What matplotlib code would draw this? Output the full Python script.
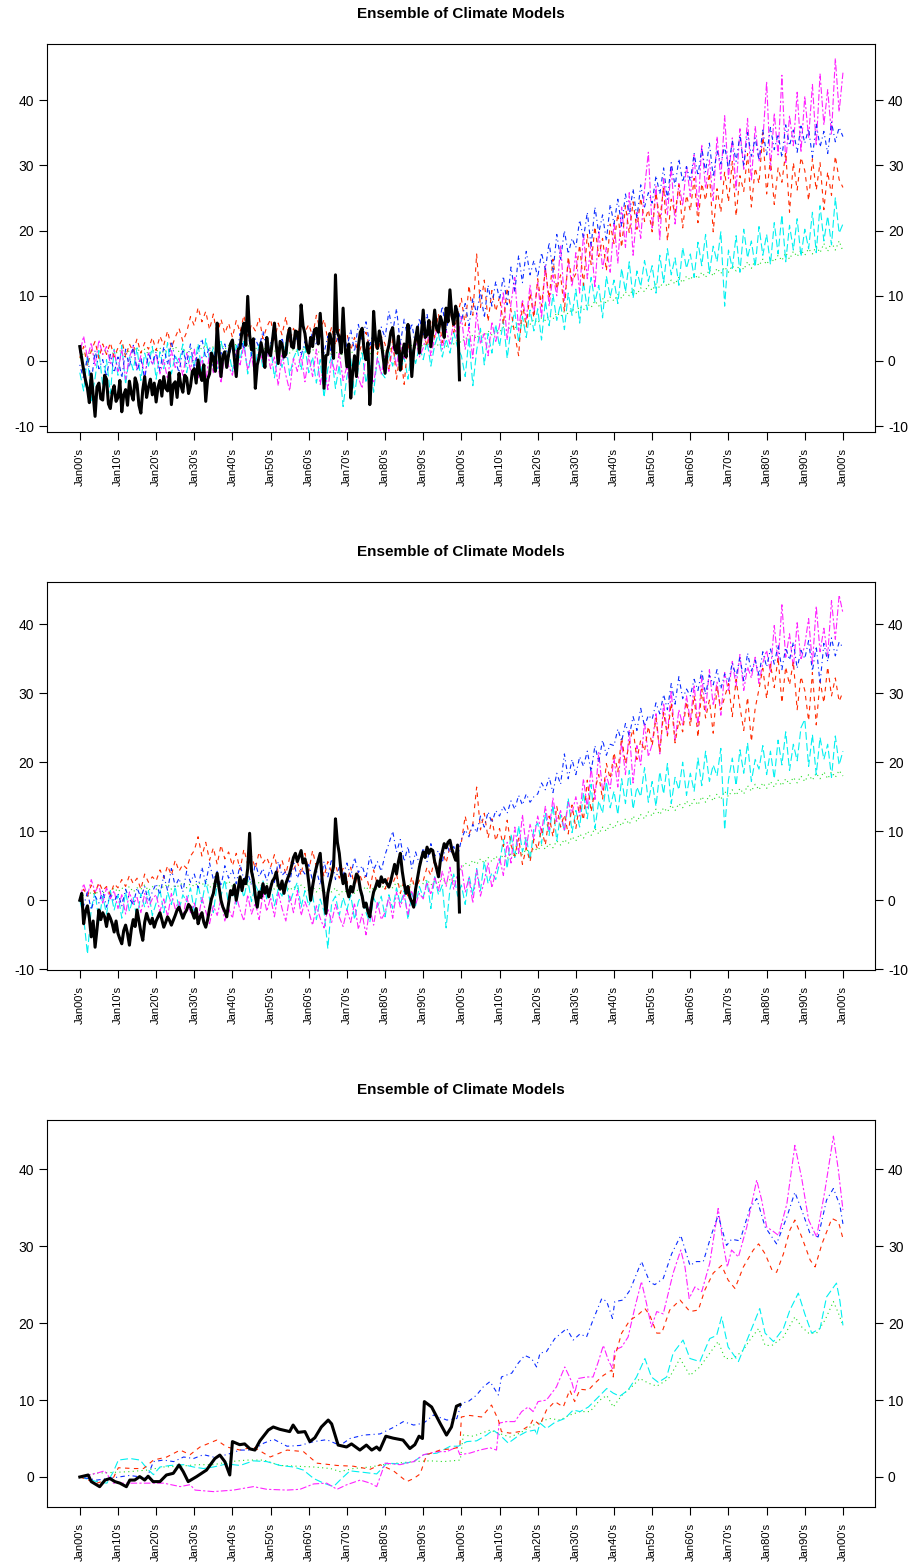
import numpy as np
import matplotlib
matplotlib.use("Agg")
import matplotlib.pyplot as plt

plt.rcParams['font.family'] = ['Liberation Sans', 'DejaVu Sans']

TITLE = "Ensemble of Climate Models"
XTICK_YEARS = list(range(1900, 2101, 10))
XTICK_LABELS = ["Jan00's", "Jan10's", "Jan20's", "Jan30's", "Jan40's", "Jan50's",
                "Jan60's", "Jan70's", "Jan80's", "Jan90's", "Jan00's", "Jan10's",
                "Jan20's", "Jan30's", "Jan40's", "Jan50's", "Jan60's", "Jan70's",
                "Jan80's", "Jan90's", "Jan00's"]
YTICKS_12 = [-10, 0, 10, 20, 30, 40]
YTICKS_3 = [0, 10, 20, 30, 40]

# ---------------- Panel 1 (yearly values 1900-2100, one row per decade) ----------------
P1_RED = [0.5, 2.2, -0.8, 1.6, 3.0, 0.4, 2.6, 1.0, 2.8, 0.6,
          2.0, 3.2, 0.6, 2.6, 1.4, 3.4, 1.2, 2.8, 1.8, 3.6,
          1.6, 3.8, 2.4, 4.6, 2.0, 3.6, 5.0, 3.0, 4.4, 6.8,
          5.4, 8.2, 6.0, 7.6, 4.8, 7.2, 3.8, 6.4, 4.2, 5.8,
          3.6, 6.2, 4.4, 7.0, 3.8, 5.6, 4.6, 6.6, 3.4, 5.2,
          6.4, 3.2, 5.8, 4.0, 6.8, 2.8, 5.0, 3.6, 6.2, 4.4,
          5.6, 3.8, 7.0, 4.6, 6.4, 3.2, 5.2, 2.4, 4.8, 3.0,
          4.2, 1.6, 3.6, 0.8, 2.8, 4.4, 1.8, 3.4, 1.0, 3.8,
          2.6, -1.2, 3.4, -2.8, 1.6, -3.6, 2.8, -0.6, 3.8, 1.4,
          4.6, 2.2, 6.0, 3.6, 7.2, 2.8, 5.8, 8.2, 4.4, 7.0,
          9.6, 5.4, 11.6, 7.0, 16.4, 8.2, 12.4, 6.0, 10.8, 7.6,
          9.8, 5.6, 11.2, 7.8, 4.0, 0.8, 8.8, 5.2, 10.4, 6.6,
          12.6, 8.4, 14.2, 9.6, 15.6, 11.0, 13.2, 7.6, 16.0, 12.2,
          13.4, 17.8, 11.6, 19.4, 14.8, 20.6, 16.0, 18.8, 13.8, 21.0,
          18.0, 22.6, 17.4, 23.8, 19.6, 24.4, 20.2, 25.0, 21.4, 23.2,
          19.8, 25.8, 21.6, 26.6, 18.4, 24.8, 22.6, 27.0, 20.4, 25.4,
          23.0, 28.0, 21.2, 27.2, 24.6, 28.8, 19.8, 26.4, 22.8, 29.0,
          24.4, 30.6, 22.2, 28.4, 26.0, 31.8, 23.6, 29.6, 27.2, 35.0,
          25.6, 31.0, 24.0, 29.6, 27.4, 32.0, 22.8, 30.4, 26.2, 31.2,
          29.2, 24.6, 31.0, 26.2, 30.4, 23.2, 29.0, 25.4, 31.4, 27.8,
          26.6]
P1_BLUE = [-0.6, -2.8, 0.8, -3.4, 1.6, -1.2, 0.2, -2.4, 1.0, -1.8,
           0.6, -2.6, 1.8, -1.0, 2.4, -1.6, 0.4, -2.8, 1.2, -0.4,
           1.4, -1.6, 2.2, -0.6, 3.0, 0.2, -1.8, 1.8, -0.4, 2.6,
           -1.2, 1.6, 3.4, 0.4, 2.2, -0.8, 3.8, 1.0, 2.6, 0.2,
           3.0, 0.6, 4.2, 1.8, 4.8, 0.8, 3.4, 2.0, 4.6, 1.2,
           2.8, 4.4, 1.0, 3.6, 0.4, 4.8, 2.2, 3.8, 0.8, 3.0,
           1.6, 4.6, 2.4, 5.4, 1.2, 3.8, 0.8, 4.2, 2.6, 5.0,
           2.0, 4.8, 1.4, 5.6, 3.0, 6.0, 2.4, 4.6, 1.8, 5.2,
           3.6, 7.6, 4.4, 8.0, 2.6, 6.4, 3.2, 5.8, 2.2, 6.6,
           4.0, 7.2, 3.4, 6.8, 5.2, 8.4, 4.6, 7.6, 5.6, 8.0,
           6.0, 8.8, 5.4, 9.6, 7.2, 10.8, 6.6, 11.6, 8.4, 12.2,
           9.4, 13.0, 8.6, 14.4, 10.6, 16.2, 12.0, 16.8, 13.2, 15.4,
           12.8, 16.6, 14.0, 18.2, 13.6, 19.4, 15.6, 20.0, 16.4, 18.8,
           17.4, 21.6, 18.8, 22.8, 17.6, 23.6, 19.6, 22.4, 18.4, 24.0,
           21.0, 24.8, 20.6, 25.6, 22.4, 26.4, 21.8, 27.0, 23.6, 25.8,
           24.2, 28.4, 25.6, 29.6, 24.8, 30.4, 26.8, 31.0, 27.4, 29.8,
           27.6, 31.8, 28.4, 32.6, 29.0, 33.4, 28.2, 32.2, 30.2, 33.0,
           29.4, 33.8, 30.6, 34.6, 29.8, 35.0, 31.4, 34.2, 30.8, 35.4,
           31.6, 35.8, 32.4, 34.8, 31.2, 36.2, 33.0, 35.4, 32.0, 36.0,
           33.4, 35.6, 31.2, 36.4, 32.8, 35.2, 31.8, 36.6, 33.6, 35.8,
           34.4]
P1_MAGENTA = [1.2, 3.8, 0.4, 2.8, -0.8, 3.2, 1.0, 2.2, -0.4, 1.6,
              -1.6, 1.8, -2.8, 0.6, 2.2, -1.2, 0.8, -2.4, 1.4, -0.6,
              1.0, -2.0, 0.2, -2.8, 1.6, -1.0, 0.4, -2.2, 1.2, -1.4,
              1.8, -2.6, 0.6, -3.2, 1.2, -1.8, 0.0, -3.4, 1.4, -0.8,
              -2.2, 1.6, -0.6, 2.4, -1.4, 0.8, -2.8, 1.8, -0.2, 2.0,
              -1.2, 0.6, -3.8, 1.2, -2.2, -4.6, 0.4, -1.6, 1.0, -3.2,
              0.8, -2.4, 1.8, -3.6, -0.6, -4.4, 0.2, -2.0, 1.2, -3.0,
              -0.8, -4.8, 0.6, -2.6, -4.2, 1.2, -1.6, -3.4, 0.4, -2.0,
              0.8, -1.6, 2.2, -0.8, 3.0, 0.2, 2.6, -1.2, 3.4, 0.6,
              2.0, 4.4, 0.8, 3.6, 5.6, 1.8, 4.8, 2.6, 6.0, 3.2,
              6.8, 1.8, 5.2, 0.4, 7.4, 2.6, 4.2, 0.8, 6.0, 3.0,
              5.4, 10.6, 3.2, 8.8, 12.8, 4.6, 9.4, 6.4, 11.6, 7.2,
              12.0, 6.6, 14.6, 8.4, 13.2, 10.0, 17.8, 9.2, 15.4, 11.4,
              16.6, 10.4, 19.6, 12.6, 18.2, 11.2, 20.0, 14.2, 17.4, 13.6,
              21.2, 15.0, 23.6, 17.4, 25.8, 16.2, 22.8, 18.8, 26.4, 32.0,
              20.2, 26.8, 18.6, 28.0, 22.4, 29.8, 21.0, 27.2, 23.8, 30.0,
              25.2, 31.6, 23.0, 33.2, 26.4, 30.8, 24.6, 34.4, 27.8, 37.6,
              28.0, 34.2, 26.2, 35.6, 29.4, 37.2, 27.6, 36.0, 30.6, 33.8,
              42.8, 29.2, 38.0, 31.6, 43.8, 30.4, 37.6, 33.0, 41.2, 32.0,
              40.6, 34.2, 42.4, 33.0, 44.0, 36.2, 41.6, 34.8, 46.4, 38.2,
              44.2]
P1_CYAN = [-1.8, -4.6, 0.8, -6.2, -2.6, 1.6, -3.8, 0.2, -5.0, 1.8,
           -2.2, 2.4, -3.6, 0.6, -1.4, 2.0, -3.0, 1.2, -0.8, 2.2,
           -2.8, 1.4, -1.2, 2.8, -2.0, 0.8, -0.4, 2.6, -1.8, 1.0,
           -0.8, 2.6, -1.8, 3.4, 0.2, 2.0, -1.2, 3.0, 0.6, 1.6,
           -1.6, 2.4, 0.2, 3.0, -2.0, 1.4, -0.6, 2.6, -1.2, 0.8,
           2.4, -2.6, 1.0, -1.0, 2.8, -2.2, 0.4, 1.8, -1.4, 2.2,
           -1.8, 0.6, -3.4, 0.2, -5.6, -1.2, 0.8, -4.2, -0.6, -7.0,
           -2.4, 0.4, -5.2, -1.0, 1.2, -3.4, -0.2, -4.8, 0.6, -1.8,
           -2.6, 1.4, -0.8, 2.4, -1.8, 0.6, -2.8, 1.8, -0.4, 2.2,
           0.2, 3.0, -0.8, 2.4, 4.2, 0.6, 3.4, 1.2, 4.4, 2.0,
           0.8, -2.4, 3.6, -3.8, 1.6, 5.0, -0.6, 4.2, 1.2, 5.6,
           2.2, 6.2, 0.4, 5.0, 7.6, 2.8, 6.8, 3.6, 7.8, 4.6,
           8.0, 3.2, 9.2, 5.4, 10.2, 6.2, 8.8, 4.8, 10.4, 7.0,
           11.0, 5.8, 12.2, 7.8, 12.8, 9.0, 11.6, 6.6, 13.0, 9.8,
           12.4, 8.8, 14.2, 10.6, 15.2, 9.6, 13.8, 11.4, 15.4, 12.2,
           14.6, 10.4, 16.2, 12.0, 17.2, 13.2, 15.8, 11.6, 17.4, 14.2,
           16.4, 12.8, 18.2, 14.6, 19.4, 13.4, 17.6, 15.2, 19.8, 8.4,
           17.0, 14.2, 19.2, 13.6, 20.2, 15.8, 18.4, 14.4, 20.6, 16.2,
           19.4, 14.8, 21.2, 16.4, 22.4, 15.2, 20.8, 17.0, 21.8, 16.0,
           20.2, 17.2, 22.8, 16.6, 23.8, 18.4, 22.2, 17.8, 25.0, 19.6,
           21.0]
P1_GREEN = [0.4, 1.2, 0.8, 1.6, 0.6, 1.4, 1.0, 1.8, 0.8, 1.4,
            1.2, 1.8, 1.0, 1.6, 1.4, 2.0, 1.2, 1.8, 1.0, 1.6,
            1.4, 2.0, 1.2, 1.8, 1.6, 2.2, 1.4, 2.0, 1.2, 1.8,
            1.6, 2.2, 1.8, 2.4, 1.6, 2.2, 2.0, 2.6, 1.8, 2.4,
            2.0, 2.6, 1.8, 2.4, 2.2, 2.8, 1.8, 2.4, 1.6, 2.2,
            2.0, 1.4, 2.2, 1.6, 2.0, 1.2, 1.8, 1.4, 2.0, 1.6,
            1.2, 1.8, 1.0, 1.6, 0.8, 1.4, 1.0, 1.6, 0.6, 1.2,
            1.0, 1.6, 0.8, 1.4, 1.2, 1.8, 1.0, 1.6, 1.4, 2.0,
            1.4, 2.0, 1.6, 2.4, 1.8, 2.2, 1.6, 2.4, 2.0, 2.6,
            2.2, 2.8, 2.0, 2.6, 2.4, 3.0, 2.2, 2.8, 2.6, 3.2,
            2.8, 3.6, 3.2, 4.0, 3.4, 4.4, 3.8, 4.6, 4.0, 4.8,
            4.4, 5.2, 4.6, 5.4, 5.0, 5.8, 5.2, 6.0, 5.6, 6.4,
            5.8, 6.6, 6.2, 7.0, 6.4, 7.4, 6.8, 7.6, 7.2, 8.0,
            7.4, 8.4, 7.8, 8.8, 8.2, 9.2, 8.4, 9.6, 8.8, 9.8,
            9.2, 10.2, 9.6, 10.6, 10.0, 11.0, 10.2, 11.2, 10.6, 11.6,
            10.8, 11.8, 11.2, 12.2, 11.4, 12.4, 11.8, 12.8, 12.0, 13.0,
            12.4, 13.4, 12.6, 13.6, 12.8, 14.0, 13.0, 14.2, 13.4, 14.4,
            13.6, 14.6, 13.8, 14.8, 14.0, 15.2, 14.2, 15.4, 14.6, 15.6,
            14.8, 15.8, 15.2, 16.2, 15.4, 16.6, 15.6, 16.8, 16.0, 17.0,
            16.2, 17.2, 16.4, 17.6, 16.6, 18.0, 16.8, 18.2, 17.0, 18.4,
            16.8]
# observed series, half-yearly values 1900.0 - 1999.5 (one row per decade)
P1_OBS = [2.2, 0.4, -1.4, -3.0, -4.2, -6.4, -2.0, -5.2, -8.5, -4.0,
          -3.4, -5.8, -6.0, -2.2, -2.8, -6.6, -7.3, -4.8, -3.8, -6.2,
          -5.6, -3.0, -7.8, -5.2, -4.4, -6.8, -3.1, -5.0, -6.0, -2.6,
          -3.6, -6.8, -8.0, -4.4, -2.4, -5.6, -4.0, -2.8, -5.2, -3.4,
          -6.3, -4.0, -3.0, -5.4, -2.4, -4.2, -4.6, -1.8, -6.7, -3.6,
          -3.2, -5.6, -1.9, -3.8, -4.8, -2.2, -2.6, -5.0, -3.9, -1.6,
          -1.2, -3.4, 0.15, -2.0, -3.0, -0.6, -6.2, -2.8, -2.0, 1.2,
          0.4, -1.6, 5.8, 1.4, -2.4, 0.8, 1.4, -1.0, 1.0, 2.6,
          3.2, 0.4, -2.4, 1.8, 2.0, 4.6, 5.8, 2.4, 9.9, 4.0,
          1.7, 3.4, -4.2, -0.6, 0.6, 2.8, 1.2, -1.0, 3.6, 1.4,
          0.8, 3.2, 5.8, 2.4, -0.4, 3.0, 2.6, 0.6, 1.0, 3.8,
          5.0, 2.2, 2.0, 4.6, 4.4, 1.8, 8.6, 5.4, 4.2, 2.0,
          1.2, 3.6, 2.2, 4.8, 5.0, 2.6, 7.3, 3.2, -4.2, 0.8,
          1.0, 4.2, 2.9, 0.4, 13.2, 4.4, 3.6, 1.2, 8.1, 2.2,
          -0.9, 2.6, -5.7, -1.8, 0.8, -2.4, 2.2, 4.4, 5.0, 1.6,
          0.2, 2.8, -6.7, -2.0, 7.6, 3.4, 1.9, 4.6, 3.0, 0.6,
          -1.9, 1.2, 2.4, 4.4, 5.1, 2.0, 1.2, 3.8, -1.4, 1.0,
          2.6, 0.6, 5.6, 3.0, -2.4, 1.6, 3.4, 5.2, 1.2, 4.0,
          7.8, 3.6, 4.0, 6.2, 2.2, 4.6, 7.8, 5.0, 4.4, 6.8,
          5.8, 3.6, 8.1, 6.0, 10.9, 7.0, 5.6, 8.4, 7.2, -2.9]

# ---------------- Panel 2 (yearly values 1900-2100) ----------------
P2_RED = [0.2, 1.6, 0.6, 2.2, 1.0, 2.6, 1.4, 2.0, 0.8, 2.4,
          1.8, 3.0, 2.0, 3.6, 2.4, 3.2, 1.6, 3.8, 2.6, 3.4,
          2.8, 4.4, 3.2, 5.0, 3.6, 5.8, 4.2, 5.2, 4.6, 6.4,
          7.2, 9.2, 6.4, 8.4, 5.8, 7.6, 5.2, 8.0, 6.0, 7.0,
          5.0, 6.8, 4.4, 7.4, 5.2, 6.4, 4.6, 7.0, 5.4, 6.2,
          4.8, 6.6, 4.0, 5.8, 3.8, 6.2, 4.4, 5.6, 3.6, 6.8,
          4.2, 7.2, 4.8, 6.0, 3.4, 5.6, 4.0, 5.2, 3.2, 4.6,
          2.4, 4.8, 1.8, 4.2, 2.8, 3.6, 1.6, 4.4, 2.2, 3.2,
          1.6, 3.6, 2.4, 3.8, 1.0, 2.8, 0.6, 3.4, 1.4, 3.0,
          2.8, 4.8, 3.6, 6.0, 4.2, 7.2, 5.4, 7.8, 6.2, 7.4,
          8.4, 12.2, 9.6, 11.0, 16.4, 10.2, 12.6, 9.0, 11.8, 8.6,
          10.4, 7.8, 11.6, 8.0, 6.4, 9.0, 5.2, 7.6, 5.6, 8.8,
          7.4, 10.4, 8.0, 12.2, 9.2, 13.6, 10.6, 12.4, 9.6, 13.8,
          10.4, 14.0, 11.6, 17.4, 12.8, 16.0, 18.2, 14.6, 19.8, 17.6,
          21.4, 18.6, 23.6, 19.8, 22.8, 24.8, 20.4, 23.2, 21.6, 25.2,
          22.4, 26.4, 21.4, 27.2, 23.8, 28.6, 22.8, 26.0, 24.4, 28.8,
          25.2, 29.6, 23.6, 30.6, 26.4, 29.0, 24.2, 31.0, 27.6, 29.4,
          31.4, 26.6, 32.0, 28.0, 24.6, 29.4, 23.0, 27.8, 30.6, 33.6,
          29.2, 34.2, 30.8, 35.2, 28.6, 33.8, 31.2, 34.6, 27.6, 32.4,
          30.4, 26.0, 33.0, 25.4, 31.8, 28.6, 33.8, 29.6, 32.2, 28.8,
          30.2]
P2_BLUE = [0.0, -0.8, 1.2, -1.4, 0.6, -0.4, 1.4, -1.0, 0.8, -0.2,
           1.0, -0.8, 1.6, 0.2, -0.6, 1.8, 0.4, 2.0, -0.2, 1.2,
           2.4, 0.8, 3.6, 1.4, 4.6, 2.0, 3.2, 1.2, 4.2, 2.6,
           3.8, 1.8, 4.8, 2.4, 5.4, 3.0, 4.2, 2.0, 5.0, 3.2,
           4.4, 2.4, 5.2, 3.0, 4.0, 2.2, 5.4, 3.4, 4.6, 2.8,
           4.8, 2.6, 5.6, 3.6, 4.2, 2.4, 5.8, 3.2, 4.6, 3.8,
           5.2, 2.8, 4.4, 2.2, 5.6, 3.4, 6.0, 3.0, 4.8, 3.6,
           5.4, 3.4, 6.2, 4.0, 5.0, 3.2, 6.4, 4.4, 5.6, 4.2,
           6.6, 8.2, 10.0, 7.0, 8.8, 5.6, 7.8, 4.6, 7.0, 5.2,
           7.6, 5.6, 8.2, 6.4, 7.2, 5.4, 8.4, 6.8, 7.8, 6.2,
           8.8, 10.2, 9.2, 11.0, 9.8, 12.2, 10.6, 12.8, 11.2, 13.0,
           12.2, 13.6, 12.6, 14.4, 13.2, 15.2, 13.8, 15.4, 14.2, 15.0,
           15.4, 17.0, 16.0, 17.8, 15.6, 18.4, 16.8, 21.2, 17.6, 20.4,
           18.2, 20.8, 19.4, 21.6, 18.6, 22.4, 20.0, 23.2, 21.0, 22.6,
           22.4, 24.8, 23.0, 25.6, 23.8, 26.6, 24.6, 27.8, 25.2, 26.8,
           26.2, 28.6, 27.0, 29.8, 27.6, 31.4, 28.4, 32.4, 29.2, 30.6,
           29.6, 32.0, 30.4, 33.2, 29.8, 32.6, 31.2, 33.4, 30.6, 32.8,
           31.6, 34.4, 32.4, 35.2, 31.8, 35.8, 33.2, 34.8, 32.6, 36.0,
           33.8, 36.4, 34.2, 37.0, 33.4, 36.6, 34.8, 37.4, 33.6, 36.2,
           35.0, 37.6, 33.2, 36.8, 31.4, 37.2, 34.6, 38.0, 35.4, 37.4,
           36.6]
P2_MAGENTA = [0.0, 2.4, 0.6, 3.0, 1.2, 2.2, -0.4, 1.8, 0.2, 1.4,
              -1.2, 0.8, -2.0, 1.2, -0.6, 0.4, -1.8, 1.0, -1.0, 0.2,
              0.8, -1.6, 0.2, -2.4, 1.0, -1.2, -0.2, -2.6, 0.6, -1.8,
              -0.4, -2.8, 0.4, -1.6, -3.4, -0.8, -2.2, 0.2, -3.0, -1.2,
              -2.6, 0.6, -1.4, -3.0, 0.8, -2.0, -0.4, -2.8, 1.0, -1.6,
              0.4, -2.4, 1.2, -1.2, -3.0, 0.6, -1.8, 1.4, -2.2, -0.2,
              -1.6, -3.6, -0.8, -2.6, -4.0, -1.2, -3.2, -0.6, -2.4, -3.8,
              -1.4, -3.2, -0.4, -4.2, -2.0, -5.0, -1.0, -3.6, -0.2, -2.8,
              -1.8, 0.4, -2.6, 1.2, -1.0, 0.8, -2.2, 1.4, -0.6, 1.0,
              0.2, 2.6, 0.8, 3.4, 1.4, 4.2, 2.0, 4.8, 1.6, 3.8,
              5.0, 1.2, 3.2, -0.4, 4.4, 0.6, 2.8, 5.4, 1.8, 4.2,
              6.2, 3.6, 8.4, 5.4, 10.6, 6.8, 12.4, 7.6, 11.0, 8.8,
              12.2, 9.8, 13.6, 10.2, 14.8, 11.4, 13.0, 10.0, 14.2, 12.6,
              15.0, 12.2, 17.6, 13.4, 19.2, 14.6, 21.4, 15.8, 18.0, 16.2,
              20.6, 16.4, 23.0, 18.2, 24.6, 17.0, 22.4, 19.6, 25.8, 20.8,
              22.6, 27.2, 21.2, 28.6, 24.0, 30.4, 23.2, 27.6, 25.4, 29.6,
              26.0, 31.2, 25.2, 32.4, 27.4, 33.4, 28.2, 31.6, 26.8, 33.0,
              30.2, 34.6, 31.0, 35.6, 30.4, 33.8, 32.2, 35.2, 31.4, 34.4,
              36.2, 33.0, 39.8, 34.4, 42.8, 35.2, 38.6, 33.6, 40.2, 34.8,
              37.0, 40.8, 34.2, 42.6, 36.0, 39.4, 35.4, 43.4, 37.8, 44.2,
              41.6]
P2_CYAN = [0.0, -2.4, -7.8, -1.2, 1.2, -3.0, 0.6, -2.0, 1.4, -1.4,
           0.8, -2.6, 1.2, -1.6, 0.4, -2.8, 1.0, -1.0, 1.4, -2.2,
           -0.4, 1.6, -1.8, 1.2, -0.6, 2.0, -1.4, 0.8, -0.2, 1.8,
           -1.6, 2.2, -0.4, 2.8, 0.2, -1.8, 2.4, 0.6, 3.0, -0.8,
           1.8, -0.6, 2.6, 0.4, 3.0, -0.2, 2.2, 1.0, 2.8, 0.2,
           2.4, -0.8, 1.6, 0.6, 2.8, -0.4, 1.2, 2.6, -1.0, 1.4,
           -0.8, 0.8, -2.8, 0.2, -1.6, -7.0, -0.4, 0.6, -2.2, 0.4,
           -1.4, 0.8, -2.8, -0.2, 1.0, -1.8, -3.2, 0.4, -1.0, 0.6,
           -2.4, 0.8, -1.2, 1.8, -0.6, 1.4, -2.8, 1.0, -0.8, 2.0,
           0.4, 2.8, -1.2, 3.4, 0.8, 2.2, -4.0, 1.6, 3.8, 0.6,
           2.2, -0.6, 3.6, 0.8, 4.6, 1.4, 5.6, 2.4, 4.0, 3.0,
           5.4, 8.8, 4.6, 9.6, 6.2, 10.8, 7.0, 9.2, 5.8, 10.4,
           11.2, 8.2, 12.6, 9.4, 13.8, 8.6, 12.4, 10.0, 14.8, 9.8,
           13.0, 10.6, 15.6, 11.8, 16.8, 10.4, 14.4, 12.6, 17.2, 13.4,
           15.8, 12.4, 17.6, 14.0, 18.8, 13.2, 16.4, 15.0, 19.2, 14.2,
           17.2, 13.6, 18.6, 15.4, 19.8, 14.0, 17.8, 16.0, 20.0, 15.2,
           18.4, 15.8, 20.6, 16.6, 21.6, 17.2, 19.6, 18.0, 22.0, 10.2,
           17.4, 20.6, 16.6, 21.8, 18.4, 22.8, 17.2, 20.4, 19.0, 22.4,
           18.2, 21.6, 17.6, 23.2, 19.6, 24.4, 18.8, 22.6, 20.2, 25.0,
           26.2, 19.4, 24.0, 18.2, 23.6, 20.4, 22.6, 17.8, 23.8, 19.6,
           21.6]
P2_GREEN = [0.2, 0.8, 0.6, 1.2, 0.8, 1.4, 1.0, 1.6, 1.2, 1.8,
            1.2, 1.8, 1.4, 2.0, 1.2, 1.8, 1.6, 2.2, 1.4, 2.0,
            1.6, 2.2, 1.8, 2.4, 1.6, 2.2, 2.0, 2.6, 1.8, 2.4,
            2.0, 2.6, 2.2, 2.8, 1.8, 2.4, 2.0, 2.6, 2.2, 2.8,
            2.0, 2.6, 2.4, 3.0, 2.2, 2.8, 2.0, 2.6, 1.8, 2.4,
            2.2, 1.6, 2.4, 1.8, 2.2, 1.4, 2.0, 1.6, 2.2, 1.8,
            1.4, 2.0, 1.2, 1.8, 1.0, 1.6, 1.2, 1.8, 0.8, 1.4,
            1.2, 1.8, 1.0, 1.6, 1.4, 2.0, 1.2, 1.8, 1.6, 2.2,
            1.6, 2.2, 1.8, 2.6, 2.0, 2.4, 1.8, 2.6, 2.2, 2.8,
            2.4, 3.0, 2.2, 2.8, 2.6, 3.2, 2.4, 3.0, 2.8, 3.4,
            4.6, 5.4, 5.0, 5.8, 5.2, 6.0, 5.4, 6.2, 5.6, 6.4,
            5.8, 6.6, 6.0, 6.8, 6.4, 7.2, 6.6, 7.4, 6.8, 7.6,
            7.2, 8.0, 7.4, 8.2, 7.6, 8.6, 8.0, 8.8, 8.2, 9.2,
            8.6, 9.6, 9.0, 10.0, 9.4, 10.4, 9.6, 10.6, 10.0, 11.0,
            10.4, 11.4, 10.8, 11.8, 11.0, 12.2, 11.4, 12.4, 11.8, 12.8,
            12.2, 13.2, 12.4, 13.4, 12.8, 13.8, 13.0, 14.0, 13.4, 14.4,
            13.6, 14.6, 13.8, 15.0, 14.2, 15.2, 14.4, 15.4, 14.6, 15.8,
            15.0, 16.0, 15.2, 16.2, 15.4, 16.6, 15.8, 16.8, 16.0, 17.0,
            16.2, 17.2, 16.4, 17.4, 16.6, 17.6, 16.8, 17.8, 17.0, 18.0,
            17.2, 18.2, 17.4, 18.4, 17.6, 18.6, 17.6, 18.6, 17.8, 18.8,
            18.0]
P2_OBS = [0.0, 1.0, -3.4, -1.6, -0.8, -2.6, -5.3, -3.0, -6.8, -4.2,
          -1.4, -2.8, -1.8, -2.4, -3.8, -2.0, -2.6, -3.4, -4.6, -3.0,
          -4.8, -5.6, -6.3, -4.4, -3.6, -4.8, -6.5, -4.2, -2.8, -3.8,
          -1.4, -3.0, -4.6, -5.8, -3.2, -1.9, -2.8, -3.4, -2.6, -3.9,
          -3.0, -2.4, -1.8, -2.8, -3.9, -3.2, -2.4, -2.9, -3.6, -2.9,
          -2.2, -1.4, -1.0, -1.8, -2.6, -1.9, -1.4, -0.6, -1.0, -1.8,
          -2.6, -1.2, -3.4, -2.4, -1.8, -3.2, -3.9, -2.8, -1.2, 0.2,
          1.0, 2.6, 3.9, 1.8, 0.0, -1.0, -1.6, -2.4, -0.4, 1.4,
          0.8, 2.2, 0.0, 1.6, 3.4, 1.4, 3.0, 2.4, 4.6, 9.7,
          4.2, 2.9, 0.6, -1.0, 1.2, 0.4, 2.4, 1.0, 2.0, 0.5,
          1.8, 2.8, 3.2, 4.1, 2.2, 1.6, 2.8, 1.0, 2.4, 3.2,
          3.9, 5.0, 6.2, 6.8, 5.6, 6.4, 7.2, 5.4, 6.0, 4.8,
          2.6, 0.0, 2.0, 3.6, 4.8, 5.8, 6.8, 3.0, 0.8, -1.9,
          1.0, 2.4, 3.6, 5.0, 11.8, 8.4, 6.8, 4.0, 2.4, 3.8,
          1.6, 0.5, 2.0, 1.2, 2.6, 3.8, 3.4, 1.6, 0.6, -1.0,
          -0.4, -1.6, -2.4, -0.2, 1.2, 1.9, 2.8, 2.0, 3.4, 2.6,
          3.0, 2.4, 1.9, 2.8, 4.0, 5.2, 3.8, 5.6, 6.8, 4.2,
          2.4, 1.0, 2.0, 0.4, -0.2, -1.0, 1.6, 3.2, 4.8, 6.0,
          7.0, 6.2, 7.7, 6.8, 7.4, 7.2, 5.6, 4.6, 3.4, 5.8,
          7.0, 8.2, 7.6, 8.4, 8.7, 7.4, 6.6, 5.8, 8.0, -1.7]

# ---------------- Panel 3 (smoothed; year / value pairs) ----------------
P3_BLUE_YEARS = [1900, 1904.5, 1908.8, 1913, 1917.6, 1919.3, 1921.9, 1924.6, 1927.2, 1929.8,
                 1932.4, 1935, 1938.5, 1942, 1945.5, 1948.2, 1950.8, 1954.3, 1957.7, 1961.3,
                 1964.7, 1968.2, 1970.8, 1974.4, 1978.7, 1982.2, 1984.8, 1987.5, 1990.1, 1992.7,
                 1996.2, 1998.8, 2000.0, 2001.8, 2004, 2005.7, 2007.5, 2009.7, 2010.5, 2013.2,
                 2014.9, 2016.6, 2018.4, 2019.7, 2020.6, 2022.3, 2024.5, 2027.6, 2029.3, 2031.1,
                 2032.8, 2034.5, 2036.8, 2038.1, 2039.6, 2040.2, 2042.4, 2044.2, 2047.2, 2049.4,
                 2050.7, 2052.9, 2055.1, 2057.5, 2059.9, 2061.6, 2063.4, 2065.6, 2067.3, 2069.5,
                 2070.8, 2073, 2075.6, 2077.4, 2079.6, 2082.6, 2085.3, 2087.4, 2089.2, 2091.4,
                 2093.5, 2095.7, 2097.5, 2099.2, 2100]
P3_BLUE = [0.0, -0.4, -0.1, 0.2, -0.1, 2.0, 2.2, 2.0, 2.6, 2.4,
           2.9, 2.6, 2.9, 3.5, 3.5, 4.4, 4.9, 4.0, 4.1, 4.6,
           4.85, 4.1, 5.0, 5.45, 5.6, 6.45, 7.2, 6.75, 7.0, 8.05,
           7.4, 7.6, 9.6, 9.8, 10.65, 11.7, 12.4, 10.65, 13.0, 13.5,
           14.8, 15.8, 15.4, 14.3, 16.1, 16.3, 18.0, 19.3, 17.8, 18.6,
           18.2, 20.4, 23.2, 22.8, 20.6, 22.8, 23.0, 24.3, 28.0, 25.3,
           25.0, 25.8, 29.0, 31.4, 27.5, 28.0, 28.0, 31.6, 34.0, 30.1,
           30.9, 30.7, 34.9, 36.2, 32.5, 30.3, 33.8, 37.0, 34.7, 31.6,
           31.2, 36.0, 37.5, 35.3, 32.9]
P3_MAGENTA_YEARS = [1900, 1904.5, 1906.5, 1908.8, 1917.6, 1922, 1926.3, 1928.9, 1930.2, 1935,
                    1940.3, 1945.5, 1949, 1954.3, 1957.7, 1961.3, 1964.7, 1967.4, 1970, 1973.5,
                    1976.1, 1977.8, 1980, 1983.9, 1987.5, 1990.1, 1993.6, 1996.2, 1998.8, 1999.6,
                    2002.2, 2004.8, 2007.5, 2009.2, 2009.9, 2011.8, 2014, 2015.8, 2017.5, 2018.8,
                    2020.1, 2022.3, 2024.9, 2027.1, 2028.9, 2029.7, 2030.6, 2032.8, 2034.5, 2035.9,
                    2037.2, 2038.5, 2039.6, 2040.2, 2042, 2043.7, 2045.5, 2047.2, 2048.5, 2049.8,
                    2051.2, 2052.9, 2055.5, 2057.5, 2058.6, 2059.7, 2061.2, 2063, 2065.1, 2067.3,
                    2068.6, 2069.7, 2070.8, 2072.6, 2074.8, 2077.4, 2078.7, 2080, 2081.8, 2083.1,
                    2085.3, 2087.4, 2089.2, 2091, 2093.1, 2095.3, 2097.5, 2098.8, 2100]
P3_MAGENTA = [0.0, 0.5, 0.8, -0.8, -0.8, -0.8, -1.25, -1.0, -1.7, -1.9,
              -1.7, -1.25, -1.6, -1.7, -1.6, -0.9, -0.8, -1.6, -1.0, -0.4,
              -0.8, -1.25, 1.8, 1.6, 2.0, 2.9, 3.3, 3.3, 3.9, 2.9,
              3.1, 3.5, 3.8, 3.5, 7.0, 7.2, 7.2, 8.5, 9.1, 8.5,
              9.8, 10.0, 11.7, 14.3, 12.4, 10.9, 12.8, 13.0, 13.0, 15.0,
              17.1, 15.2, 14.1, 16.5, 16.9, 18.2, 22.1, 25.4, 22.6, 19.5,
              21.5, 21.2, 26.5, 29.5, 27.3, 23.2, 24.7, 24.1, 27.8, 34.9,
              30.3, 27.3, 29.5, 28.6, 32.5, 38.6, 36.0, 32.5, 31.9, 31.4,
              35.5, 43.1, 38.8, 33.4, 31.2, 37.3, 44.3, 39.9, 34.7]
P3_RED_YEARS = [1900, 1904.5, 1908.8, 1910.1, 1914.1, 1916.7, 1919.3, 1922.8, 1926.3, 1928.9,
                1931.5, 1935.9, 1938.5, 1942, 1945.5, 1949.9, 1954.3, 1958.6, 1962.1, 1967.4,
                1971.7, 1976.1, 1978.7, 1982.2, 1985.7, 1987.5, 1989.2, 1990.9, 1994.4, 1997.9,
                1999.6, 2000.0, 2002.2, 2005.3, 2007.9, 2009.7, 2010.5, 2012.7, 2015.3, 2018.0,
                2018.8, 2020.6, 2022.3, 2024.5, 2026.7, 2028.4, 2029.7, 2031.1, 2033.3, 2035,
                2037.2, 2039.4, 2039.8, 2040.2, 2042, 2044.2, 2045.9, 2048.1, 2049.4, 2051.2,
                2052.5, 2054.6, 2057.3, 2059.9, 2062.1, 2063.8, 2066, 2068.2, 2069.9, 2071.7,
                2073.9, 2076.5, 2077.9, 2079.6, 2081.4, 2082.6, 2084.4, 2086.1, 2087.4, 2089.2,
                2091.4, 2092.7, 2094.5, 2097.1, 2098.8, 2100]
P3_RED = [0.0, -0.8, -0.1, 1.2, 1.1, 1.1, 2.2, 2.6, 3.5, 2.9,
          3.9, 4.8, 3.9, 3.5, 3.9, 2.6, 3.5, 3.3, 1.8, 1.5,
          1.4, 1.0, 1.6, 0.8, -0.6, -0.2, 0.4, 2.9, 3.5, 3.7,
          3.9, 7.8, 8.0, 7.8, 9.35, 7.4, 5.9, 5.7, 5.9, 6.75,
          7.5, 6.75, 8.7, 9.8, 9.1, 11.3, 9.8, 11.4, 11.3, 12.2,
          13.2, 13.9, 13.0, 15.6, 18.7, 20.4, 20.9, 21.9, 21.0, 18.7,
          18.7, 21.7, 23.0, 21.5, 21.7, 24.3, 26.5, 27.5, 25.6, 24.5,
          27.3, 29.5, 30.3, 29.0, 26.9, 26.6, 29.0, 32.1, 33.4, 31.2,
          28.2, 27.3, 30.3, 33.6, 33.2, 31.0]
P3_CYAN_YEARS = [1900, 1904.5, 1907.1, 1908.8, 1910.1, 1913.2, 1915.8, 1917.6, 1919.3, 1921,
                 1923.7, 1927.2, 1929.8, 1932.4, 1935, 1938.5, 1942, 1945.5, 1949, 1952.5,
                 1956, 1958.6, 1961.3, 1963.9, 1966.5, 1968.2, 1970.8, 1974.4, 1977.8, 1980.5,
                 1984, 1987.5, 1990.1, 1993.6, 1997.1, 1999.2, 2001.4, 2004, 2006.6, 2008.3,
                 2010.1, 2012.3, 2014.5, 2017.1, 2019.3, 2019.7, 2020.6, 2022.3, 2024.5, 2027.1,
                 2029.3, 2031.1, 2033.3, 2035.5, 2038.1, 2039.8, 2041.5, 2043.7, 2045.9, 2048.1,
                 2049.8, 2051.6, 2053.8, 2055.5, 2058.1, 2059.9, 2062.5, 2065.1, 2066.9, 2068.2,
                 2069.9, 2072.6, 2075.6, 2078.2, 2079.6, 2081.8, 2084.4, 2086.1, 2088.3, 2090,
                 2091.8, 2094, 2095.7, 2098.3, 2099.2, 2100]
P3_CYAN = [0.0, -0.6, -0.8, 0.7, 2.2, 2.4, 2.2, 1.1, 0.3, 1.3,
           1.5, 1.6, 1.3, 1.1, 1.3, 1.7, 1.5, 2.1, 2.0, 1.5,
           1.3, 0.9, -0.2, -0.8, -1.25, -0.4, 0.8, 0.6, 0.4, 1.8,
           1.7, 2.0, 2.9, 3.1, 4.0, 4.0, 4.6, 4.7, 5.45, 6.1,
           5.45, 4.4, 5.2, 5.9, 6.1, 5.45, 7.0, 6.3, 7.1, 7.6,
           8.7, 8.5, 9.1, 10.2, 11.5, 10.9, 10.5, 11.3, 13.0, 15.4,
           13.0, 12.3, 13.0, 16.1, 17.8, 15.4, 15.0, 18.0, 18.4, 20.8,
           16.9, 15.0, 18.7, 21.9, 18.7, 17.6, 19.3, 21.7, 23.9, 21.2,
           18.7, 19.3, 23.4, 25.2, 22.9, 19.7]
P3_GREEN_YEARS = [1900, 1904.5, 1913.2, 1917.6, 1922, 1926.3, 1930.7, 1935, 1939.4, 1943.8,
                  1948.2, 1952.5, 1956.9, 1961.3, 1965.7, 1968.2, 1971.7, 1976.1, 1979.6, 1983.1,
                  1987.5, 1991.8, 1995.3, 1999.7, 2000.5, 2003.1, 2007.5, 2009.7, 2012.7, 2015.3,
                  2018, 2020.6, 2023.2, 2025.8, 2028.4, 2031.1, 2033.7, 2036.3, 2038.1, 2039.8,
                  2042, 2044.6, 2046.8, 2049, 2051.2, 2053.8, 2054.6, 2057.3, 2059.9, 2062.5,
                  2065.1, 2067.3, 2069.1, 2071.3, 2073.9, 2075.6, 2077.9, 2079.6, 2081.4, 2084.4,
                  2087.4, 2089.2, 2091, 2093.1, 2095.3, 2097.5, 2098.8, 2100]
P3_GREEN = [0.0, 0.5, 0.7, 0.9, 1.3, 1.4, 1.6, 1.6, 2.0, 2.2,
            2.2, 1.5, 1.4, 1.3, 1.1, 0.7, 1.1, 1.3, 1.6, 1.8,
            2.0, 2.1, 2.0, 2.2, 5.45, 5.3, 6.1, 5.7, 5.2, 5.7,
            6.5, 7.2, 7.6, 7.4, 8.05, 8.5, 8.5, 10.0, 10.6, 9.1,
            10.6, 11.7, 12.8, 12.2, 11.8, 12.6, 13.0, 15.4, 13.2, 14.3,
            16.1, 17.6, 15.4, 15.4, 16.5, 17.8, 19.3, 17.1, 17.1, 18.2,
            20.8, 19.5, 18.7, 18.7, 20.4, 22.8, 21.3, 19.7]
P3_OBS_YEARS = [1900.0, 1902.2, 1903.0, 1905.2, 1906.6, 1907.9, 1909.2, 1910.5, 1912.2, 1913.1,
                1914.4, 1915.7, 1917.0, 1917.9, 1919.2, 1921.0, 1922.7, 1924.5, 1926.0, 1927.1,
                1928.4, 1930.6, 1933.2, 1935.4, 1936.7, 1938.0, 1939.3, 1940.0, 1941.9, 1943.2,
                1944.6, 1945.9, 1947.2, 1949.4, 1950.7, 1952.4, 1955.0, 1955.9, 1957.2, 1959.0,
                1960.3, 1961.6, 1963.3, 1965.1, 1966.0, 1967.7, 1969.9, 1971.2, 1973.4, 1975.1,
                1976.5, 1977.8, 1978.6, 1980.2, 1982.1, 1984.7, 1986.5, 1987.8, 1988.9, 1989.8,
                1990.3, 1992.2, 1994.4, 1996.1, 1997.4, 1998.7, 1999.6]
P3_OBS = [0.0, 0.26, -0.6, -1.26, -0.4, -0.2, -0.6, -0.8, -1.26, -0.4,
          -0.4, 0.05, -0.4, 0.1, -0.6, -0.6, 0.26, 0.48, 1.56, 0.7,
          -0.6, 0.05, 0.9, 2.4, 2.85, 2.0, 0.26, 4.6, 4.2, 4.3,
          3.65, 3.5, 4.7, 6.1, 6.5, 6.2, 5.9, 6.75, 5.8, 5.9,
          4.6, 5.1, 6.5, 7.4, 6.9, 4.15, 3.9, 4.3, 3.5, 4.15,
          3.5, 3.9, 3.5, 5.3, 5.05, 4.8, 3.7, 4.2, 5.3, 5.0,
          9.8, 9.1, 7.0, 5.45, 6.5, 9.2, 9.4]

# ---------------- styling ----------------
STYLE = {
    'red':     dict(color='#FF2A00', ls=(0, (4, 4)), lw=0.8),
    'blue':    dict(color='#0A2CFF', ls=(0, (1, 3, 4, 3)), lw=0.8),
    'magenta': dict(color='#FF22FF', ls=(0, (2, 2, 6, 2)), lw=0.8),
    'cyan':    dict(color='#00F0F0', ls=(0, (7, 3)), lw=0.8),
    'green':   dict(color='#22DD22', ls=(0, (1, 3)), lw=0.8),
}
ORDER = ['green', 'cyan', 'magenta', 'red', 'blue']

for _s in (P1_RED, P1_BLUE, P1_MAGENTA, P1_CYAN, P1_GREEN,
           P2_RED, P2_BLUE, P2_MAGENTA, P2_CYAN, P2_GREEN):
    assert len(_s) == 201, len(_s)
assert len(P1_OBS) == 200 and len(P2_OBS) == 200, (len(P1_OBS), len(P2_OBS))


def yearly(vals):
    return np.arange(1900, 1900 + len(vals), 1)


def half_yearly(vals):
    return 1900 + 0.5 * np.arange(len(vals))


def style_axes(ax, ylim, yticks):
    ax.set_xlim(1891.4, 2108.4)
    ax.set_ylim(*ylim)
    ax.set_xticks(XTICK_YEARS)
    ax.set_xticklabels(XTICK_LABELS, rotation=90, fontsize=8)
    ax.set_yticks(yticks)
    ax.set_yticklabels([str(t) for t in yticks], fontsize=10)
    ax.tick_params(axis='x', length=5.8, width=0.8, pad=5.5)
    ax.tick_params(axis='y', length=5.8, width=0.8, pad=3.5, right=True, labelright=True)
    for s in ax.spines.values():
        s.set_linewidth(0.8)
    ax.set_title(TITLE, fontsize=11, fontweight='bold', pad=19)


fig = plt.figure(figsize=(9.14, 15.68), dpi=100)
L, W = 47 / 914, 828 / 914
ax1 = fig.add_axes([L, 1 - 432 / 1568, W, 388 / 1568])
ax2 = fig.add_axes([L, 1 - 970 / 1568, W, 388 / 1568])
ax3 = fig.add_axes([L, 1 - 1507 / 1568, W, 387 / 1568])

p1 = {'red': P1_RED, 'blue': P1_BLUE, 'magenta': P1_MAGENTA, 'cyan': P1_CYAN, 'green': P1_GREEN}
p2 = {'red': P2_RED, 'blue': P2_BLUE, 'magenta': P2_MAGENTA, 'cyan': P2_CYAN, 'green': P2_GREEN}
for ax, d, obs in [(ax1, p1, P1_OBS), (ax2, p2, P2_OBS)]:
    for k in ORDER:
        ax.plot(yearly(d[k]), d[k], **STYLE[k])
    ax.plot(half_yearly(obs), obs, color='black', lw=2.2, solid_joinstyle='round')

p3 = {'red': (P3_RED_YEARS, P3_RED), 'blue': (P3_BLUE_YEARS, P3_BLUE),
      'magenta': (P3_MAGENTA_YEARS, P3_MAGENTA), 'cyan': (P3_CYAN_YEARS, P3_CYAN),
      'green': (P3_GREEN_YEARS, P3_GREEN)}
for k in ORDER:
    ax3.plot(p3[k][0], p3[k][1], **STYLE[k])
ax3.plot(P3_OBS_YEARS, P3_OBS, color='black', lw=2.2, solid_joinstyle='round')

style_axes(ax1, (-10.9, 48.6), YTICKS_12)
style_axes(ax2, (-10.1, 46.1), YTICKS_12)
style_axes(ax3, (-3.9, 46.4), YTICKS_3)

fig.savefig('out.png', dpi=100)
